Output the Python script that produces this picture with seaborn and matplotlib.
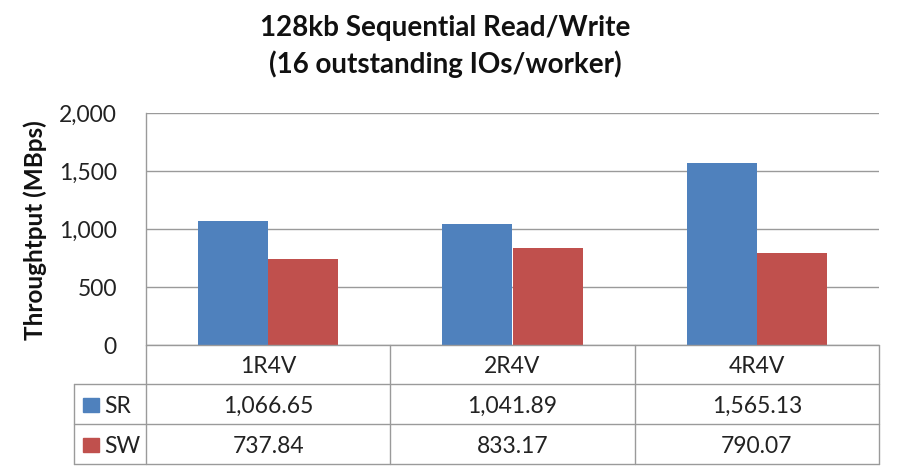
import matplotlib
matplotlib.use("Agg")
import matplotlib.pyplot as plt
import matplotlib.transforms as mtransforms
from matplotlib.ticker import FuncFormatter
import pandas as pd
import seaborn as sns

# chart data
configs = ["1R4V", "2R4V", "4R4V"]
sr_values = [1066.65, 1041.89, 1565.13]
sw_values = [737.84, 833.17, 790.07]
series = ["SR", "SW"]
colors = ["#4F81BD", "#C0504D"]
title_lines = ["128kb Sequential Read/Write", "(16 outstanding IOs/worker)"]

data = pd.DataFrame({
    "Config": configs * 2,
    "Series": ["SR"] * 3 + ["SW"] * 3,
    "Throughput": sr_values + sw_values,
})

sns.set_style("white")
plt.rcParams["font.family"] = ["Lato", "DejaVu Sans"]

W, H = 898, 473
fig = plt.figure(figsize=(W / 100, H / 100), dpi=100)

def fx(px):
    return px / W

def fy(py):
    return 1 - py / H

text_color = "#222222"
grid_color = "#9A9A9A"
fs = 16.5

left, right, top, bottom = 146, 879, 113, 345
ax = fig.add_axes([fx(left), fy(bottom), fx(right - left), (bottom - top) / H])

sns.barplot(data=data, x="Config", y="Throughput", hue="Series",
            palette=colors, width=0.573, gap=0, ax=ax, legend=False,
            edgecolor="none", saturation=1)

ax.set_ylim(0, 2000)
ax.set_yticks([0, 500, 1000, 1500, 2000])
ax.yaxis.set_major_formatter(FuncFormatter(lambda v, p: f"{v:,.0f}"))
ax.tick_params(axis="y", length=0, pad=21, labelsize=fs, colors=text_color)
ax.set_xticks([])
ax.set_xlabel("")
ax.set_ylabel("")
ax.yaxis.grid(True, color=grid_color, linewidth=1)
ax.set_axisbelow(True)
for s in ["top", "right", "bottom"]:
    ax.spines[s].set_visible(False)
ax.spines["left"].set_color(grid_color)
ax.spines["left"].set_linewidth(1)

fig.text(fx(35), fy(230), "Throughtput (MBps)", rotation=90, ha="center",
         va="center", fontsize=17.5, fontweight="bold", color="#111111")

# title, two lines
for line, base in zip(title_lines, [36, 73]):
    fig.text(fx(445), fy(base), line, ha="center", va="baseline",
             fontsize=20, fontweight="bold", color="#111111")

# data table below the plot
line_kw = dict(color=grid_color, linewidth=1, transform=fig.transFigure,
               clip_on=False)
row_y = [345, 384, 424, 464]
tab_left = 74
col_x = [left + i * (right - left) / 3 for i in range(4)]

fig.add_artist(plt.Line2D([fx(left), fx(right)], [fy(345)] * 2, **line_kw))
for y in row_y[1:]:
    fig.add_artist(plt.Line2D([fx(tab_left), fx(right)], [fy(y)] * 2, **line_kw))
for x in col_x:
    fig.add_artist(plt.Line2D([fx(x)] * 2, [fy(345), fy(464)], **line_kw))
fig.add_artist(plt.Line2D([fx(tab_left)] * 2, [fy(384), fy(464)], **line_kw))

blend = mtransforms.blended_transform_factory(ax.transData, fig.transFigure)
for i, c in enumerate(configs):
    fig.text(i, fy(373), c, transform=blend, ha="center", va="baseline",
             fontsize=fs, color=text_color)
    fig.text(i, fy(413), f"{sr_values[i]:,.2f}", transform=blend,
             ha="center", va="baseline", fontsize=fs, color=text_color)
    fig.text(i, fy(453), f"{sw_values[i]:,.2f}", transform=blend,
             ha="center", va="baseline", fontsize=fs, color=text_color)

for name, col, yc in zip(series, colors, [405, 445]):
    fig.add_artist(plt.Rectangle((fx(83), fy(yc + 7)), fx(16), 14 / H,
                                 color=col, transform=fig.transFigure))
    fig.text(fx(104), fy(yc + 8), name, ha="left", va="baseline",
             fontsize=fs, color=text_color)

fig.savefig("out.png", dpi=100)
